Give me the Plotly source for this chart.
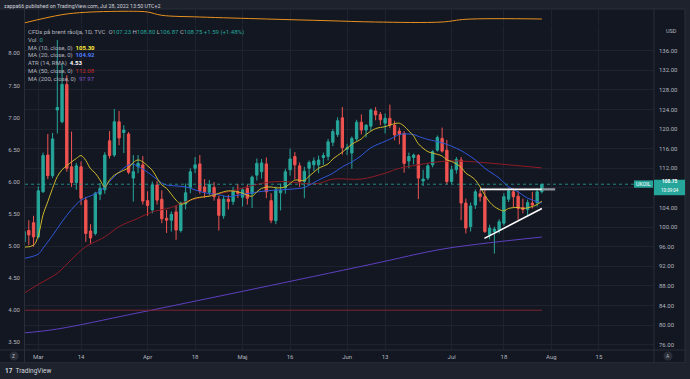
import numpy as np
import pandas as pd
import plotly.graph_objects as go

# ---------------- data ----------------
dates = [d.strftime('%Y-%m-%d') for d in pd.bdate_range('2022-02-24', '2022-07-28')
         if d.strftime('%Y-%m-%d') != '2022-04-15']

open_ = [97.0, 99.3, 100.9, 98.0, 107.2, 114.7, 110.5, 123.9, 121.5, 129.1, 112.3, 109.1, 112.3,
         105.5, 99.2, 98.7, 106.7, 107.6, 117.6, 114.7, 121.5, 119.3, 119.0,
         110.0, 112.3, 112.7, 105.4, 103.5, 108.6, 105.7, 101.8, 101.4, 103.1,
         99.3, 104.7, 108.1, 112.0, 112.9, 108.2, 107.1, 108.1, 105.7, 102.3,
         105.7, 105.2, 107.2, 106.1, 107.9, 106.8, 110.6, 111.3, 112.9, 105.4,
         101.3, 107.0, 108.0, 111.7, 114.4, 112.5, 109.3, 112.0, 112.7, 112.7,
         114.2, 114.4, 117.3, 118.9, 122.3, 115.9, 115.1, 118.0, 121.4, 119.8,
         120.6, 123.7, 123.0, 121.2, 122.2, 120.8, 119.6, 119.1, 113.5, 114.2,
         114.6, 109.4, 110.0, 112.7, 115.7, 118.1, 115.7, 109.3, 111.7, 113.7,
         104.9, 100.1, 104.5, 106.8, 106.2, 98.4, 99.1, 99.4, 100.8, 105.7,
         107.2, 106.3, 104.0, 103.6, 104.9, 105.0, 107.23]
high_ = [99.8, 101.4, 102.3, 108.3, 115.2, 119.0, 119.2, 138.2, 133.3, 131.0, 119.5, 113.1, 113.4,
         106.2, 100.6, 107.2, 109.0, 115.3, 119.6, 124.1, 123.7, 120.8, 119.4,
         114.7, 114.7, 114.5, 107.3, 109.3, 109.4, 107.5, 103.5, 103.2, 104.3,
         105.2, 108.9, 112.0, 114.3, 114.7, 109.8, 109.6, 109.2, 106.4, 106.4,
         106.6, 108.2, 108.8, 108.0, 108.7, 110.5, 114.0, 113.9, 114.2, 106.9,
         108.3, 108.9, 111.9, 116.0, 115.3, 113.2, 112.3, 113.6, 114.2, 114.6,
         115.2, 118.0, 120.0, 122.4, 124.5, 117.0, 118.5, 121.9, 123.0, 121.0,
         124.2, 124.5, 123.5, 123.2, 125.0, 121.7, 120.3, 119.6, 115.2, 115.0,
         114.9, 111.7, 113.0, 115.7, 118.7, 120.3, 117.8, 112.5, 114.3, 114.3,
         105.8, 105.0, 107.7, 107.7, 107.6, 100.5, 100.1, 101.6, 106.9, 107.9,
         107.9, 107.3, 105.8, 105.6, 107.2, 107.9, 108.80]
low_ = [96.6, 96.3, 96.0, 97.7, 107.0, 109.8, 110.0, 119.1, 121.2, 111.3, 108.2, 107.6, 104.5,
        97.0, 96.6, 98.3, 105.5, 106.8, 114.0, 114.3, 116.7, 115.1, 110.8,
        105.2, 111.0, 104.6, 102.3, 102.8, 104.6, 100.8, 98.8, 99.1, 97.4,
        98.9, 103.6, 106.9, 111.0, 106.8, 105.9, 106.5, 105.4, 99.3, 101.7,
        103.6, 104.5, 105.9, 104.2, 104.6, 103.9, 109.5, 109.9, 105.9, 100.8,
        100.6, 103.4, 106.8, 110.5, 109.8, 108.2, 105.9, 109.0, 111.4, 111.0,
        112.7, 113.6, 116.5, 118.4, 114.8, 114.7, 111.9, 117.6, 118.9, 118.3,
        119.6, 121.8, 120.8, 119.1, 120.2, 117.7, 116.9, 111.1, 112.0, 112.8,
        105.7, 108.4, 109.6, 112.2, 115.4, 115.2, 108.7, 108.8, 110.9, 101.4,
        98.7, 99.1, 103.7, 105.2, 98.8, 97.5, 94.6, 98.7, 100.3, 105.1,
        104.0, 101.5, 102.8, 102.4, 103.8, 104.2, 106.87]
close_ = [99.1, 98.4, 98.0, 107.4, 114.6, 110.5, 118.0, 124.4, 129.1, 112.0, 109.1, 112.5, 105.9,
          98.7, 97.8, 106.9, 107.9, 114.7, 114.6, 121.5, 118.2, 119.8, 111.2,
          111.3, 113.0, 105.3, 104.4, 108.6, 105.5, 101.7, 101.4, 102.6, 99.4,
          104.9, 107.0, 111.3, 112.7, 107.4, 107.2, 108.7, 106.2, 102.4, 105.7,
          105.2, 107.4, 106.9, 107.6, 105.9, 110.2, 113.0, 113.1, 107.2, 101.4,
          107.6, 107.5, 111.3, 113.9, 112.7, 109.3, 111.4, 113.2, 113.5, 113.7,
          114.6, 117.4, 119.5, 121.7, 116.2, 116.2, 118.1, 121.4, 119.8, 120.8,
          123.9, 122.9, 121.9, 122.2, 120.8, 118.8, 118.9, 113.0, 114.4, 114.7,
          110.0, 109.8, 112.5, 115.4, 118.3, 115.5, 109.3, 111.7, 113.8, 104.9,
          99.8, 104.3, 107.2, 106.2, 99.1, 99.8, 99.6, 101.1, 106.2, 107.4,
          106.2, 103.8, 103.6, 105.0, 104.5, 107.2, 108.75]

# indicator readings (bar number counted from 1 Mar 2022 = 0)
ma10_bar = [-3, -1, 0, 1, 2, 3, 4, 5, 7, 8, 9, 10, 11, 12, 13, 14, 15, 16, 18, 19, 20, 21, 22, 23, 24, 25, 26,
            27, 29, 30, 31, 32, 33, 35, 36, 38, 39, 40, 42, 43, 45, 46, 47, 49, 50, 52, 53, 54, 56, 57, 58, 59,
            61, 62, 64, 66, 68, 69, 71, 73, 75, 76, 77, 78, 79, 80, 82, 83, 85, 86, 87, 89, 90, 91, 92, 93, 94,
            95, 96, 97, 98, 99, 101, 102, 104, 105, 106]
ma10_val = [95.9, 96.3, 98.3, 102.5, 105.2, 107.9, 110.3, 111.7, 113.3, 114.0, 114.6, 113.6, 111.9, 111.0, 109.6,
            108.2, 109.6, 110.6, 111.6, 112.1, 113.2, 113.7, 113.3, 112.5, 111.6, 110.0, 108.6, 107.9, 105.5,
            104.7, 104.9, 105.5, 105.9, 106.2, 106.3, 106.9, 107.2, 107.4, 107.2, 106.9, 106.3, 107.2, 107.9,
            108.2, 108.0, 108.2, 108.9, 109.6, 109.5, 110.4, 111.2, 112.0, 112.9, 113.9, 115.3, 116.9, 118.0,
            118.9, 120.1, 120.5, 121.1, 121.2, 120.6, 119.6, 118.6, 117.0, 115.4, 115.1, 114.5, 113.7, 113.4,
            112.2, 111.0, 110.4, 109.6, 108.2, 106.5, 105.1, 104.2, 103.6, 103.3, 103.8, 104.0, 103.8, 104.2,
            104.6, 105.30]
ma20_bar = [-3, 0, 1, 3, 5, 7, 9, 12, 14, 15, 17, 19, 20, 21, 23, 26, 27, 29, 31, 33, 35, 38, 40, 42, 45, 48,
            51, 54, 56, 59, 62, 64, 66, 68, 70, 73, 75, 76, 79, 80, 82, 85, 87, 89, 92, 94, 97, 99, 101, 103, 106]
ma20_val = [93.6, 94.5, 95.7, 98.3, 101.1, 103.6, 105.5, 106.8, 108.2, 109.3, 111.2, 112.7, 112.8, 112.4, 111.2,
            109.0, 108.6, 108.4, 108.2, 107.6, 107.0, 106.6, 106.2, 106.5, 107.0, 107.4, 107.6, 107.8, 108.1,
            109.6, 111.0, 112.3, 113.3, 114.6, 116.2, 117.5, 118.4, 118.9, 118.9, 118.5, 117.9, 117.2, 116.5,
            115.6, 113.7, 112.0, 110.0, 108.2, 107.2, 105.9, 104.92]
ma50_bar = [-3, 0, 4, 7, 10, 14, 17, 21, 24, 28, 31, 35, 40, 44, 48, 52, 56, 59, 62, 68, 73, 76, 80, 83, 87,
            92, 99, 106]
ma50_val = [86.5, 88.3, 90.6, 93.4, 96.0, 98.0, 100.1, 101.8, 103.1, 104.0, 105.2, 106.2, 107.2, 108.2, 109.1,
            109.3, 108.9, 108.9, 109.8, 109.8, 111.0, 112.0, 112.7, 113.2, 113.5, 113.3, 112.7, 112.08]
ma200_bar = [-3, 4, 20, 45, 70, 85, 95, 106]
ma200_val = [78.4, 79.2, 82.3, 87.3, 92.4, 95.5, 96.8, 97.97]
atr_bar = [-3, 5, 10, 20, 23, 26, 34, 48, 61, 71, 85, 90, 106]
atr_val = [3.31, 5.85, 6.58, 6.89, 6.67, 5.66, 5.14, 4.53, 4.01, 3.61, 3.61, 4.44, 4.53]
level_left = 4.00          # horizontal level on the left scale
resist_bar = [93, 106, 108.8]
resist_val = [107.7, 107.7, 107.7]
support_bar = [93.9, 106]
support_val = [97.7, 103.8]

tick_dates = ['2022-03-01', '2022-03-14', '2022-04-01', '2022-04-18', '2022-05-02', '2022-05-16',
              '2022-06-01', '2022-06-13', '2022-07-01', '2022-07-18', '2022-08-01', '2022-08-15']
tick_text = ['Mar', '14', 'Apr', '18', 'Maj', '16', 'Jun', '13', 'Jul', '18', 'Aug', '15']
right_ticks = list(range(76, 137, 4))
left_ticks = [3.5, 4.0, 4.5, 5.0, 5.5, 6.0, 6.5, 7.0, 7.5, 8.0]

legend_vals = dict(ma10='105.30', ma20='104.92', atr='4.53', ma50='112.08', ma200='97.97')

# ---------------- positions ----------------
origin = dates.index('2022-03-01')
xb = np.arange(len(dates)) - origin
last = dates[-1]
def bar_of(d):
    if d in dates:
        return dates.index(d) - origin
    n = len(pd.bdate_range(last, d)) - 1
    return xb[-1] + n
tick_pos = [bar_of(d) for d in tick_dates]

W, H = 690, 379
def px(v): return v / W
def py(v): return 1 - v / H

TOP, BOT, LEFT, RIGHT = 25, 350, 25, 654
Y_LO, Y_HI = 74.92, 141.24
L_LO, L_HI = 3.380, 8.441

BG = '#131722'
FRAME = '#1e222d'
GRID = '#1f2330'
BORDER = '#2a2e39'
TXT = '#b2b5be'
UP, DN = '#26a69a', '#ef5350'
FONT = 'Roboto'

fig = go.Figure()
fig.add_trace(go.Scatter(x=atr_bar, y=atr_val, yaxis='y3', mode='lines', line=dict(color='#e8901f', width=1, shape='spline')))
fig.add_trace(go.Scatter(x=[xb[0], xb[-1]], y=[level_left, level_left], yaxis='y2', mode='lines',
                         line=dict(color='#7d2430', width=1)))
fig.add_trace(go.Scatter(x=ma200_bar, y=ma200_val, mode='lines', line=dict(color='#5e3fc0', width=1, shape='spline')))
fig.add_trace(go.Scatter(x=ma50_bar, y=ma50_val, mode='lines', line=dict(color='#8e1c24', width=1, shape='spline')))
fig.add_trace(go.Scatter(x=ma20_bar, y=ma20_val, mode='lines', line=dict(color='#2f57d9', width=1, shape='spline')))
fig.add_trace(go.Scatter(x=ma10_bar, y=ma10_val, mode='lines', line=dict(color='#cdb92c', width=1, shape='spline')))
fig.add_trace(go.Candlestick(x=xb, open=open_, high=high_, low=low_, close=close_, whiskerwidth=0,
                             increasing=dict(line=dict(color=UP, width=1), fillcolor=UP),
                             decreasing=dict(line=dict(color=DN, width=1), fillcolor=DN)))
fig.add_trace(go.Scatter(x=resist_bar[:2], y=resist_val[:2], mode='lines', line=dict(color='#ffffff', width=1.6)))
fig.add_trace(go.Scatter(x=resist_bar[1:], y=resist_val[1:], mode='lines', line=dict(color='#9598a1', width=2.2)))
fig.add_trace(go.Scatter(x=support_bar, y=support_val, mode='lines', line=dict(color='#ffffff', width=1.6)))

def ypix(p):
    return TOP + (Y_HI - p) / (Y_HI - Y_LO) * (BOT - TOP)

shapes = []
shapes.append(dict(type='rect', xref='paper', yref='paper', x0=px(0), x1=px(685), y0=py(363), y1=py(9),
                   fillcolor=BG, line=dict(width=0), layer='below'))
for (x0, y0, x1, y1) in [(0, 9, 685, 9), (0, 350, 685, 350), (0, 362.7, 685, 362.7),
                         (24.5, 9, 24.5, 362.7), (654, 9, 654, 362.7), (685, 9, 685, 362.7)]:
    shapes.append(dict(type='line', xref='paper', yref='paper', x0=px(x0), x1=px(x1), y0=py(y0), y1=py(y1),
                       line=dict(color=BORDER, width=1)))
# last price line
shapes.append(dict(type='line', xref='paper', yref='y', x0=px(LEFT), x1=px(RIGHT), y0=close_[-1], y1=close_[-1],
                   line=dict(color=UP, width=1, dash='dot'), opacity=0.8))
yc = ypix(close_[-1])
shapes.append(dict(type='rect', xref='paper', yref='paper', x0=px(634), x1=px(653), y0=py(yc + 3.5), y1=py(yc - 3.8),
                   fillcolor=UP, line=dict(width=0)))
shapes.append(dict(type='rect', xref='paper', yref='paper', x0=px(654), x1=px(685), y0=py(yc + 11), y1=py(yc - 4.5),
                   fillcolor=UP, line=dict(width=0)))
# buttons
for cx in (14, 668):
    shapes.append(dict(type='circle', xref='paper', yref='paper', x0=px(cx - 4.5), x1=px(cx + 4.5),
                       y0=py(360.5), y1=py(351.5), fillcolor='#2a2e39', line=dict(width=0)))

ann = []
def add_text(x, y, text, size=6, color=TXT, xanchor='left', yanchor='middle', align='left'):
    ann.append(dict(xref='paper', yref='paper', x=px(x), y=py(y), text=text, showarrow=False, borderpad=0,
                    xanchor=xanchor, yanchor=yanchor, align=align,
                    font=dict(family=FONT, size=size, color=color)))

def c(t, col):
    return f"<span style='color:{col}'>{t}</span>"

o, h, l, cl = open_[-1], high_[-1], low_[-1], close_[-1]
legend_lines = [
    'CFDs på brent råolja, 1D, TVC  O' + c(f'{o:.2f}', UP) + ' H' + c(f'{h:.2f}', UP) +
    ' L' + c(f'{l:.2f}', UP) + ' C' + c(f'{cl:.2f}', UP) + ' ' + c('+1.59 (+1.48%)', UP),
    'Vol  ' + c('0', UP),
    'MA (10, close, 0)  ' + c('<b>' + legend_vals['ma10'] + '</b>', '#ffeb3b'),
    'MA (20, close, 0)  ' + c('<b>' + legend_vals['ma20'] + '</b>', '#4d7cfe'),
    'ATR (14, RMA)  ' + c('<b>' + legend_vals['atr'] + '</b>', '#ffffff'),
    'MA (50, close, 0)  ' + c(legend_vals['ma50'], '#c62828'),
    'MA (200, close, 0)  ' + c(legend_vals['ma200'], '#7e57c2'),
]
add_text(3, 5.5, 'zappa66 published on TradingView.com, Jul 28, 2022 13:50 UTC+2', size=5.3, color='#d1d4dc')
add_text(27, 26.5, '<br>'.join(legend_lines), size=6.0, yanchor='top')
add_text(665, 30.7, 'USD', size=5.5)
add_text(643.5, yc, 'UKOIL', size=5.3, color='#ffffff', xanchor='center')
add_text(669.5, yc - 2.4, '<b>' + f'{cl:.2f}' + '</b>', size=4.8, color='#ffffff', xanchor='center')
add_text(669.5, yc + 6.2, '10:09:04', size=4.5, color='#ffffff', xanchor='center')
add_text(14, 356, 'Z', size=5, xanchor='center')
add_text(668, 356, 'A', size=5, xanchor='center')
add_text(4, 371, '<b>17</b>  TradingView', size=6.5, color='#d1d4dc')

axfont = dict(family=FONT, size=6, color=TXT)
fig.update_layout(
    width=W, height=H, margin=dict(l=0, r=0, t=0, b=0),
    paper_bgcolor=FRAME, plot_bgcolor=BG, showlegend=False,
    font=dict(family=FONT, size=6, color=TXT),
    xaxis=dict(domain=[px(LEFT), px(RIGHT)], range=[-2.8, 129.6], tickvals=tick_pos, ticktext=tick_text,
               showgrid=True, gridcolor=GRID, gridwidth=1, zeroline=False, showline=False, ticks='',
               tickfont=axfont, anchor='y', rangeslider=dict(visible=False), fixedrange=True,
               ticklabelstandoff=2),
    yaxis=dict(domain=[py(BOT), py(TOP)], range=[Y_LO, Y_HI], side='right', tickvals=right_ticks,
               ticktext=[f'{v:.2f}' for v in right_ticks], showgrid=True, gridcolor=GRID, zeroline=False,
               ticks='', tickfont=axfont, anchor='x', ticklabelstandoff=4),
    yaxis2=dict(overlaying='y', side='left', range=[L_LO, L_HI], tickvals=left_ticks,
                ticktext=[f'{v:.2f}' for v in left_ticks], showgrid=False, zeroline=False, ticks='',
                tickfont=axfont, anchor='x', ticklabelstandoff=4),
    yaxis3=dict(domain=[py(24), py(10)], range=[3, 7.28], visible=False, anchor='x'),
    shapes=shapes, annotations=ann,
)
fig.write_html('out.html', config={'displayModeBar': False},
               post_script="document.body.style.margin='0';document.body.style.padding='0';"
                           "document.body.style.overflow='hidden';")
